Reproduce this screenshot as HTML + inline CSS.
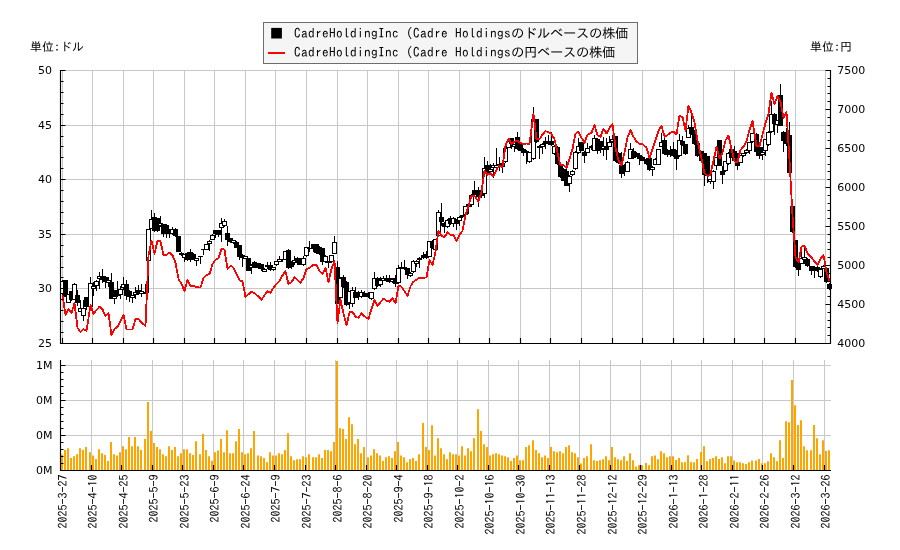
<!DOCTYPE html><html><head><meta charset="utf-8"><title>CadreHoldingInc</title>
<style>html,body{margin:0;padding:0;background:#fff}svg{display:block;will-change:transform}.n{font-family:"DejaVu Sans","Liberation Sans",sans-serif;font-size:11px;fill:#000}.j{font-family:"IPAGothic","Liberation Mono","Noto Sans CJK JP",monospace;fill:#000}</style></head><body>
<svg width="900" height="550" viewBox="0 0 900 550">
<rect width="900" height="550" fill="#fff"/>
<path d="M62.5 70V343M92.5 70V343M91.5 360V470M123.5 70V343M121.5 360V470M153.5 70V343M152.5 360V470M184.5 70V343M182.5 360V470M214.5 70V343M213.5 360V470M245.5 70V343M243.5 360V470M275.5 70V343M274.5 360V470M306.5 70V343M305.5 360V470M337.5 70V343M335.5 360V470M367.5 70V343M366.5 360V470M398.5 70V343M396.5 360V470M428.5 70V343M427.5 360V470M459.5 70V343M457.5 360V470M489.5 70V343M488.5 360V470M520.5 70V343M518.5 360V470M550.5 70V343M549.5 360V470M581.5 70V343M579.5 360V470M612.5 70V343M610.5 360V470M642.5 70V343M640.5 360V470M673.5 70V343M671.5 360V470M703.5 70V343M701.5 360V470M734.5 70V343M732.5 360V470M764.5 70V343M762.5 360V470M795.5 70V343M793.5 360V470M825.5 70V343M824.5 360V470M61 70.5H830M61 125.5H830M61 179.5H830M61 234.5H830M61 288.5H830M61 365.5H831M61 400.5H831M61 435.5H831" stroke="#c8c8c8" stroke-width="1" fill="none" shape-rendering="crispEdges"/>
<path d="M61 470V454.5h2V470ZM64 470V450.1h2V470ZM67 470V448.3h2V470ZM70 470V458.1h2V470ZM73 470V456.3h2V470ZM76 470V454.2h2V470ZM79 470V448.3h2V470ZM82 470V450.1h2V470ZM85 470V447.1h2V470ZM89 470V452.2h2V470ZM92 470V455.4h2V470ZM95 470V459.0h2V470ZM98 470V449.2h2V470ZM101 470V453.3h2V470ZM104 470V455.1h2V470ZM107 470V461.1h2V470ZM110 470V442.1h2V470ZM113 470V454.2h2V470ZM116 470V455.4h2V470ZM119 470V452.2h2V470ZM122 470V446.2h2V470ZM125 470V449.2h2V470ZM128 470V437.1h2V470ZM131 470V446.2h2V470ZM134 470V437.1h2V470ZM137 470V446.2h2V470ZM140 470V450.1h2V470ZM144 470V439.1h2V470ZM147 470V402.1h2V470ZM150 470V431.1h2V470ZM153 470V443.0h2V470ZM156 470V447.1h2V470ZM159 470V449.2h2V470ZM162 470V454.2h2V470ZM165 470V456.3h2V470ZM168 470V446.2h2V470ZM171 470V450.1h2V470ZM174 470V447.1h2V470ZM177 470V456.3h2V470ZM180 470V453.3h2V470ZM183 470V449.2h2V470ZM186 470V449.2h2V470ZM189 470V453.3h2V470ZM192 470V455.1h2V470ZM195 470V441.2h2V470ZM199 470V454.2h2V470ZM202 470V434.1h2V470ZM205 470V450.1h2V470ZM208 470V456.3h2V470ZM211 470V460.8h2V470ZM214 470V452.2h2V470ZM217 470V450.4h2V470ZM220 470V439.1h2V470ZM223 470V452.2h2V470ZM226 470V430.2h2V470ZM229 470V453.3h2V470ZM232 470V453.3h2V470ZM235 470V441.2h2V470ZM238 470V429.1h2V470ZM241 470V452.2h2V470ZM244 470V454.2h2V470ZM247 470V453.3h2V470ZM250 470V448.3h2V470ZM253 470V431.1h2V470ZM257 470V455.4h2V470ZM260 470V456.3h2V470ZM263 470V458.1h2V470ZM266 470V462.2h2V470ZM269 470V452.2h2V470ZM272 470V455.4h2V470ZM275 470V455.4h2V470ZM278 470V453.3h2V470ZM281 470V454.2h2V470ZM284 470V450.1h2V470ZM287 470V433.2h2V470ZM290 470V456.3h2V470ZM293 470V460.2h2V470ZM296 470V459.3h2V470ZM299 470V459.3h2V470ZM302 470V456.3h2V470ZM305 470V457.2h2V470ZM308 470V454.2h2V470ZM312 470V457.2h2V470ZM315 470V457.2h2V470ZM318 470V454.2h2V470ZM321 470V458.1h2V470ZM324 470V450.1h2V470ZM327 470V450.1h2V470ZM330 470V451.2h2V470ZM333 470V442.1h2V470ZM336 470V361.0h2V470ZM339 470V428.2h2V470ZM342 470V429.1h2V470ZM345 470V439.1h2V470ZM348 470V417.2h2V470ZM351 470V424.3h2V470ZM354 470V444.2h2V470ZM357 470V439.1h2V470ZM360 470V453.3h2V470ZM363 470V447.1h2V470ZM367 470V457.2h2V470ZM370 470V455.4h2V470ZM373 470V449.2h2V470ZM376 470V453.3h2V470ZM379 470V455.4h2V470ZM382 470V461.1h2V470ZM385 470V457.2h2V470ZM388 470V456.3h2V470ZM391 470V458.1h2V470ZM394 470V451.2h2V470ZM397 470V442.1h2V470ZM400 470V455.4h2V470ZM403 470V457.2h2V470ZM406 470V462.2h2V470ZM409 470V459.3h2V470ZM412 470V458.1h2V470ZM415 470V461.1h2V470ZM418 470V454.2h2V470ZM422 470V423.1h2V470ZM425 470V447.1h2V470ZM428 470V450.1h2V470ZM431 470V425.2h2V470ZM434 470V455.4h2V470ZM437 470V438.2h2V470ZM440 470V448.3h2V470ZM443 470V454.2h2V470ZM446 470V459.3h2V470ZM449 470V452.2h2V470ZM452 470V454.2h2V470ZM455 470V454.2h2V470ZM458 470V455.4h2V470ZM461 470V446.2h2V470ZM464 470V455.4h2V470ZM467 470V448.3h2V470ZM470 470V451.2h2V470ZM473 470V438.2h2V470ZM477 470V409.2h2V470ZM480 470V431.1h2V470ZM483 470V444.2h2V470ZM486 470V447.1h2V470ZM489 470V455.4h2V470ZM492 470V454.2h2V470ZM495 470V453.3h2V470ZM498 470V454.2h2V470ZM501 470V455.4h2V470ZM504 470V456.3h2V470ZM507 470V457.2h2V470ZM510 470V461.1h2V470ZM513 470V458.1h2V470ZM516 470V455.4h2V470ZM519 470V460.2h2V470ZM522 470V460.2h2V470ZM525 470V447.1h2V470ZM528 470V445.3h2V470ZM532 470V440.3h2V470ZM535 470V450.1h2V470ZM538 470V453.3h2V470ZM541 470V457.2h2V470ZM544 470V455.4h2V470ZM547 470V458.1h2V470ZM550 470V447.1h2V470ZM553 470V451.2h2V470ZM556 470V452.2h2V470ZM559 470V451.2h2V470ZM562 470V453.3h2V470ZM565 470V447.1h2V470ZM568 470V445.3h2V470ZM571 470V452.2h2V470ZM574 470V453.3h2V470ZM577 470V457.2h2V470ZM580 470V463.4h2V470ZM583 470V458.1h2V470ZM586 470V456.3h2V470ZM590 470V444.2h2V470ZM593 470V460.2h2V470ZM596 470V461.1h2V470ZM599 470V460.2h2V470ZM602 470V459.3h2V470ZM605 470V456.3h2V470ZM608 470V460.2h2V470ZM611 470V447.1h2V470ZM614 470V457.2h2V470ZM617 470V459.3h2V470ZM620 470V460.2h2V470ZM623 470V456.3h2V470ZM626 470V461.1h2V470ZM629 470V453.3h2V470ZM632 470V460.2h2V470ZM635 470V466.4h2V470ZM638 470V465.2h2V470ZM641 470V465.2h2V470ZM645 470V463.1h2V470ZM648 470V465.2h2V470ZM651 470V456.3h2V470ZM654 470V455.4h2V470ZM657 470V459.3h2V470ZM660 470V451.2h2V470ZM663 470V453.3h2V470ZM666 470V457.2h2V470ZM669 470V456.2h2V470ZM672 470V456.2h2V470ZM675 470V460.0h2V470ZM678 470V458.1h2V470ZM681 470V462.3h2V470ZM684 470V462.3h2V470ZM687 470V455.3h2V470ZM690 470V462.3h2V470ZM693 470V462.3h2V470ZM696 470V459.0h2V470ZM700 470V452.1h2V470ZM703 470V446.2h2V470ZM706 470V461.3h2V470ZM709 470V459.0h2V470ZM712 470V458.1h2V470ZM715 470V456.2h2V470ZM718 470V459.0h2V470ZM721 470V457.2h2V470ZM724 470V463.2h2V470ZM727 470V456.2h2V470ZM730 470V456.2h2V470ZM733 470V460.4h2V470ZM736 470V462.3h2V470ZM739 470V462.3h2V470ZM742 470V463.2h2V470ZM745 470V464.1h2V470ZM748 470V462.3h2V470ZM751 470V460.4h2V470ZM755 470V460.4h2V470ZM758 470V459.0h2V470ZM761 470V463.2h2V470ZM764 470V463.2h2V470ZM767 470V461.3h2V470ZM770 470V453.2h2V470ZM773 470V457.2h2V470ZM776 470V461.3h2V470ZM779 470V440.2h2V470ZM782 470V458.1h2V470ZM785 470V421.3h2V470ZM788 470V422.2h2V470ZM791 470V380.1h2V470ZM794 470V405.2h2V470ZM797 470V425.0h2V470ZM800 470V420.3h2V470ZM803 470V446.2h2V470ZM806 470V450.2h2V470ZM810 470V450.2h2V470ZM813 470V425.0h2V470ZM816 470V438.3h2V470ZM819 470V454.3h2V470ZM822 470V440.2h2V470ZM825 470V451.1h2V470ZM828 470V450.2h2V470Z" fill="#ffa500"/>
<g stroke-width="1" shape-rendering="crispEdges"><path d="M62.5 280V295" stroke="#000"/><rect x="60.5" y="281.5" width="4" height="12.0" fill="#fff" stroke="#000"/><path d="M65.5 280V297" stroke="#000"/><rect x="63.5" y="280.5" width="4" height="16.0" fill="#000" stroke="#000"/><path d="M68.5 294V303" stroke="#000"/><rect x="66.5" y="294.5" width="4" height="8.0" fill="#fff" stroke="#000"/><path d="M71.5 291V301" stroke="#000"/><rect x="69.5" y="291.5" width="4" height="8.0" fill="#000" stroke="#000"/><path d="M74.5 283V300" stroke="#000"/><rect x="72.5" y="284.5" width="4" height="15.0" fill="#fff" stroke="#000"/><path d="M77.5 290V306" stroke="#000"/><rect x="75.5" y="295.5" width="4" height="7.0" fill="#000" stroke="#000"/><path d="M80.5 300V312" stroke="#000"/><rect x="78.5" y="308.5" width="4" height="3.0" fill="#fff" stroke="#000"/><path d="M83.5 300V321" stroke="#000"/><rect x="81.5" y="308.5" width="4" height="7.0" fill="#fff" stroke="#000"/><path d="M86.5 297V310" stroke="#000"/><rect x="84.5" y="297.5" width="4" height="9.0" fill="#000" stroke="#000"/><path d="M90.5 277V307" stroke="#000"/><rect x="88.5" y="283.5" width="4" height="23.0" fill="#fff" stroke="#000"/><path d="M93.5 282V296" stroke="#000"/><rect x="91.5" y="286.5" width="4" height="2.0" fill="#fff" stroke="#000"/><path d="M96.5 280V291" stroke="#000"/><rect x="94.5" y="281.5" width="4" height="4.0" fill="#fff" stroke="#000"/><path d="M99.5 272V289" stroke="#000"/><rect x="97.5" y="276.5" width="4" height="2.0" fill="#fff" stroke="#000"/><path d="M102.5 269V283" stroke="#000"/><rect x="100.5" y="276.5" width="4" height="3.0" fill="#000" stroke="#000"/><path d="M105.5 276V288" stroke="#000"/><rect x="103.5" y="277.5" width="4" height="4.0" fill="#000" stroke="#000"/><path d="M108.5 277V287" stroke="#000"/><rect x="106.5" y="280.5" width="4" height="2.0" fill="#fff" stroke="#000"/><path d="M111.5 273V299" stroke="#000"/><rect x="109.5" y="282.5" width="4" height="16.0" fill="#000" stroke="#000"/><path d="M114.5 290V304" stroke="#000"/><rect x="112.5" y="296.5" width="4" height="2.0" fill="#fff" stroke="#000"/><path d="M117.5 281V297" stroke="#000"/><rect x="115.5" y="290.5" width="4" height="5.0" fill="#000" stroke="#000"/><path d="M120.5 286V299" stroke="#000"/><rect x="118.5" y="289.5" width="4" height="5.0" fill="#fff" stroke="#000"/><path d="M123.5 277V290" stroke="#000"/><rect x="121.5" y="284.5" width="4" height="3.0" fill="#fff" stroke="#000"/><path d="M126.5 280V300" stroke="#000"/><rect x="124.5" y="284.5" width="4" height="11.0" fill="#000" stroke="#000"/><path d="M129.5 290V302" stroke="#000"/><rect x="127.5" y="291.5" width="4" height="5.0" fill="#000" stroke="#000"/><path d="M132.5 295V303" stroke="#000"/><rect x="130.5" y="295.5" width="4" height="2.0" fill="#fff" stroke="#000"/><path d="M135.5 287V299" stroke="#000"/><rect x="133.5" y="292.5" width="4" height="2.0" fill="#fff" stroke="#000"/><path d="M138.5 285V295" stroke="#000"/><rect x="136.5" y="290.5" width="4" height="3.0" fill="#000" stroke="#000"/><path d="M141.5 284V297" stroke="#000"/><rect x="139.5" y="291.5" width="4" height="2.0" fill="#fff" stroke="#000"/><path d="M145.5 284V294" stroke="#000"/><rect x="143.5" y="292.5" width="4" height="1.0" fill="#000" stroke="#000"/><path d="M148.5 229V293" stroke="#000"/><rect x="146.5" y="229.5" width="4" height="31.0" fill="#fff" stroke="#000"/><path d="M151.5 210V229" stroke="#000"/><rect x="149.5" y="219.5" width="4" height="9.0" fill="#fff" stroke="#000"/><path d="M154.5 213V232" stroke="#000"/><rect x="152.5" y="217.5" width="4" height="13.0" fill="#000" stroke="#000"/><path d="M157.5 218V232" stroke="#000"/><rect x="155.5" y="218.5" width="4" height="12.0" fill="#000" stroke="#000"/><path d="M160.5 216V227" stroke="#000"/><rect x="158.5" y="223.5" width="4" height="2.0" fill="#fff" stroke="#000"/><path d="M163.5 224V237" stroke="#000"/><rect x="161.5" y="224.5" width="4" height="9.0" fill="#000" stroke="#000"/><path d="M166.5 224V238" stroke="#000"/><rect x="164.5" y="225.5" width="4" height="8.0" fill="#000" stroke="#000"/><path d="M169.5 229V238" stroke="#000"/><path d="M167.0 231.5H172.0" stroke="#000"/><path d="M172.5 227V235" stroke="#000"/><rect x="170.5" y="229.5" width="4" height="4.0" fill="#fff" stroke="#000"/><path d="M175.5 228V237" stroke="#000"/><rect x="173.5" y="229.5" width="4" height="6.0" fill="#000" stroke="#000"/><path d="M178.5 236V252" stroke="#000"/><rect x="176.5" y="236.5" width="4" height="15.0" fill="#000" stroke="#000"/><path d="M181.5 252V256" stroke="#000"/><rect x="179.5" y="253.5" width="4" height="1.0" fill="#000" stroke="#000"/><path d="M184.5 254V262" stroke="#000"/><rect x="182.5" y="254.5" width="4" height="3.0" fill="#fff" stroke="#000"/><path d="M187.5 252V261" stroke="#000"/><rect x="185.5" y="253.5" width="4" height="6.0" fill="#000" stroke="#000"/><path d="M190.5 249V262" stroke="#000"/><rect x="188.5" y="252.5" width="4" height="7.0" fill="#000" stroke="#000"/><path d="M193.5 253V260" stroke="#000"/><rect x="191.5" y="254.5" width="4" height="4.0" fill="#000" stroke="#000"/><path d="M196.5 258V266" stroke="#000"/><rect x="194.5" y="258.5" width="4" height="2.0" fill="#fff" stroke="#000"/><path d="M200.5 256V264" stroke="#000"/><path d="M198.0 256.5H203.0" stroke="#000"/><path d="M203.5 249V255" stroke="#000"/><path d="M201.0 249.5H206.0" stroke="#000"/><path d="M206.5 244V250" stroke="#000"/><rect x="204.5" y="244.5" width="4" height="5.0" fill="#fff" stroke="#000"/><path d="M209.5 240V251" stroke="#000"/><rect x="207.5" y="241.5" width="4" height="2.0" fill="#fff" stroke="#000"/><path d="M212.5 234V240" stroke="#000"/><rect x="210.5" y="235.5" width="4" height="4.0" fill="#fff" stroke="#000"/><path d="M215.5 230V238" stroke="#000"/><rect x="213.5" y="230.5" width="4" height="3.0" fill="#000" stroke="#000"/><path d="M218.5 230V237" stroke="#000"/><rect x="216.5" y="230.5" width="4" height="4.0" fill="#000" stroke="#000"/><path d="M221.5 218V242" stroke="#000"/><rect x="219.5" y="223.5" width="4" height="4.0" fill="#fff" stroke="#000"/><path d="M224.5 219V227" stroke="#000"/><rect x="222.5" y="221.5" width="4" height="4.0" fill="#fff" stroke="#000"/><path d="M227.5 226V246" stroke="#000"/><rect x="225.5" y="233.5" width="4" height="6.0" fill="#000" stroke="#000"/><path d="M230.5 238V243" stroke="#000"/><rect x="228.5" y="238.5" width="4" height="3.0" fill="#000" stroke="#000"/><path d="M233.5 240V244" stroke="#000"/><rect x="231.5" y="240.5" width="4" height="2.0" fill="#fff" stroke="#000"/><path d="M236.5 241V248" stroke="#000"/><rect x="234.5" y="242.5" width="4" height="5.0" fill="#000" stroke="#000"/><path d="M239.5 245V260" stroke="#000"/><rect x="237.5" y="245.5" width="4" height="11.0" fill="#000" stroke="#000"/><path d="M242.5 254V267" stroke="#000"/><rect x="240.5" y="255.5" width="4" height="2.0" fill="#000" stroke="#000"/><path d="M245.5 256V259" stroke="#000"/><rect x="243.5" y="256.5" width="4" height="2.0" fill="#fff" stroke="#000"/><path d="M248.5 258V271" stroke="#000"/><rect x="246.5" y="258.5" width="4" height="12.0" fill="#000" stroke="#000"/><path d="M251.5 264V274" stroke="#000"/><rect x="249.5" y="265.5" width="4" height="2.0" fill="#fff" stroke="#000"/><path d="M254.5 261V268" stroke="#000"/><rect x="252.5" y="262.5" width="4" height="5.0" fill="#000" stroke="#000"/><path d="M258.5 263V269" stroke="#000"/><rect x="256.5" y="263.5" width="4" height="4.0" fill="#000" stroke="#000"/><path d="M261.5 264V271" stroke="#000"/><rect x="259.5" y="264.5" width="4" height="4.0" fill="#000" stroke="#000"/><path d="M264.5 268V272" stroke="#000"/><rect x="262.5" y="269.5" width="4" height="2.0" fill="#fff" stroke="#000"/><path d="M267.5 262V269" stroke="#000"/><rect x="265.5" y="265.5" width="4" height="1.0" fill="#000" stroke="#000"/><path d="M270.5 262V271" stroke="#000"/><rect x="268.5" y="265.5" width="4" height="4.0" fill="#000" stroke="#000"/><path d="M273.5 267V271" stroke="#000"/><rect x="271.5" y="267.5" width="4" height="2.0" fill="#fff" stroke="#000"/><path d="M276.5 261V266" stroke="#000"/><rect x="274.5" y="261.5" width="4" height="3.0" fill="#fff" stroke="#000"/><path d="M279.5 256V262" stroke="#000"/><rect x="277.5" y="259.5" width="4" height="2.0" fill="#fff" stroke="#000"/><path d="M282.5 259V262" stroke="#000"/><path d="M280.0 259.5H285.0" stroke="#000"/><path d="M285.5 251V260" stroke="#000"/><rect x="283.5" y="251.5" width="4" height="8.0" fill="#fff" stroke="#000"/><path d="M288.5 249V269" stroke="#000"/><rect x="286.5" y="250.5" width="4" height="17.0" fill="#000" stroke="#000"/><path d="M291.5 261V269" stroke="#000"/><rect x="289.5" y="261.5" width="4" height="5.0" fill="#000" stroke="#000"/><path d="M294.5 256V265" stroke="#000"/><rect x="292.5" y="260.5" width="4" height="2.0" fill="#fff" stroke="#000"/><path d="M297.5 257V265" stroke="#000"/><rect x="295.5" y="258.5" width="4" height="4.0" fill="#000" stroke="#000"/><path d="M300.5 258V265" stroke="#000"/><rect x="298.5" y="258.5" width="4" height="6.0" fill="#000" stroke="#000"/><path d="M303.5 256V266" stroke="#000"/><rect x="301.5" y="258.5" width="4" height="6.0" fill="#fff" stroke="#000"/><path d="M306.5 247V257" stroke="#000"/><rect x="304.5" y="247.5" width="4" height="8.0" fill="#fff" stroke="#000"/><path d="M309.5 241V252" stroke="#000"/><path d="M307.0 248.5H312.0" stroke="#000"/><path d="M313.5 244V252" stroke="#000"/><rect x="311.5" y="244.5" width="4" height="4.0" fill="#000" stroke="#000"/><path d="M316.5 244V254" stroke="#000"/><rect x="314.5" y="244.5" width="4" height="8.0" fill="#000" stroke="#000"/><path d="M319.5 246V255" stroke="#000"/><rect x="317.5" y="247.5" width="4" height="6.0" fill="#000" stroke="#000"/><path d="M322.5 248V265" stroke="#000"/><rect x="320.5" y="248.5" width="4" height="13.0" fill="#000" stroke="#000"/><path d="M325.5 255V263" stroke="#000"/><rect x="323.5" y="256.5" width="4" height="5.0" fill="#fff" stroke="#000"/><path d="M328.5 261V268" stroke="#000"/><rect x="326.5" y="261.5" width="4" height="1.0" fill="#000" stroke="#000"/><path d="M331.5 255V263" stroke="#000"/><rect x="329.5" y="255.5" width="4" height="6.0" fill="#fff" stroke="#000"/><path d="M334.5 236V254" stroke="#000"/><rect x="332.5" y="242.5" width="4" height="11.0" fill="#fff" stroke="#000"/><path d="M337.5 261V304" stroke="#000"/><rect x="335.5" y="267.5" width="4" height="36.0" fill="#000" stroke="#000"/><path d="M340.5 277V298" stroke="#000"/><rect x="338.5" y="278.5" width="4" height="19.0" fill="#fff" stroke="#000"/><path d="M343.5 275V288" stroke="#000"/><rect x="341.5" y="277.5" width="4" height="9.0" fill="#000" stroke="#000"/><path d="M346.5 281V306" stroke="#000"/><rect x="344.5" y="282.5" width="4" height="22.0" fill="#000" stroke="#000"/><path d="M349.5 291V309" stroke="#000"/><rect x="347.5" y="291.5" width="4" height="11.0" fill="#fff" stroke="#000"/><path d="M352.5 287V307" stroke="#000"/><rect x="350.5" y="290.5" width="4" height="13.0" fill="#fff" stroke="#000"/><path d="M355.5 287V298" stroke="#000"/><rect x="353.5" y="292.5" width="4" height="5.0" fill="#000" stroke="#000"/><path d="M358.5 291V300" stroke="#000"/><rect x="356.5" y="292.5" width="4" height="4.0" fill="#000" stroke="#000"/><path d="M361.5 290V298" stroke="#000"/><rect x="359.5" y="292.5" width="4" height="4.0" fill="#fff" stroke="#000"/><path d="M364.5 291V297" stroke="#000"/><rect x="362.5" y="293.5" width="4" height="3.0" fill="#000" stroke="#000"/><path d="M368.5 292V298" stroke="#000"/><rect x="366.5" y="293.5" width="4" height="3.0" fill="#000" stroke="#000"/><path d="M371.5 292V300" stroke="#000"/><rect x="369.5" y="292.5" width="4" height="6.0" fill="#fff" stroke="#000"/><path d="M374.5 272V290" stroke="#000"/><rect x="372.5" y="278.5" width="4" height="10.0" fill="#fff" stroke="#000"/><path d="M377.5 277V287" stroke="#000"/><rect x="375.5" y="278.5" width="4" height="7.0" fill="#000" stroke="#000"/><path d="M380.5 277V287" stroke="#000"/><rect x="378.5" y="280.5" width="4" height="4.0" fill="#fff" stroke="#000"/><path d="M383.5 276V281" stroke="#000"/><rect x="381.5" y="278.5" width="4" height="2.0" fill="#fff" stroke="#000"/><path d="M386.5 275V282" stroke="#000"/><rect x="384.5" y="278.5" width="4" height="2.0" fill="#000" stroke="#000"/><path d="M389.5 275V283" stroke="#000"/><rect x="387.5" y="278.5" width="4" height="3.0" fill="#000" stroke="#000"/><path d="M392.5 278V283" stroke="#000"/><rect x="390.5" y="279.5" width="4" height="2.0" fill="#fff" stroke="#000"/><path d="M395.5 275V287" stroke="#000"/><rect x="393.5" y="278.5" width="4" height="5.0" fill="#000" stroke="#000"/><path d="M398.5 265V284" stroke="#000"/><rect x="396.5" y="268.5" width="4" height="14.0" fill="#fff" stroke="#000"/><path d="M401.5 262V269" stroke="#000"/><rect x="399.5" y="267.5" width="4" height="1.0" fill="#000" stroke="#000"/><path d="M404.5 260V270" stroke="#000"/><rect x="402.5" y="267.5" width="4" height="1.0" fill="#000" stroke="#000"/><path d="M407.5 268V279" stroke="#000"/><rect x="405.5" y="268.5" width="4" height="6.0" fill="#000" stroke="#000"/><path d="M410.5 272V277" stroke="#000"/><rect x="408.5" y="273.5" width="4" height="2.0" fill="#fff" stroke="#000"/><path d="M413.5 260V273" stroke="#000"/><rect x="411.5" y="261.5" width="4" height="10.0" fill="#fff" stroke="#000"/><path d="M416.5 260V267" stroke="#000"/><rect x="414.5" y="261.5" width="4" height="2.0" fill="#fff" stroke="#000"/><path d="M419.5 257V268" stroke="#000"/><rect x="417.5" y="258.5" width="4" height="1.0" fill="#000" stroke="#000"/><path d="M423.5 252V259" stroke="#000"/><rect x="421.5" y="255.5" width="4" height="2.0" fill="#000" stroke="#000"/><path d="M426.5 251V259" stroke="#000"/><rect x="424.5" y="254.5" width="4" height="3.0" fill="#000" stroke="#000"/><path d="M429.5 241V257" stroke="#000"/><rect x="427.5" y="241.5" width="4" height="15.0" fill="#fff" stroke="#000"/><path d="M432.5 240V249" stroke="#000"/><rect x="430.5" y="241.5" width="4" height="6.0" fill="#000" stroke="#000"/><path d="M435.5 239V250" stroke="#000"/><rect x="433.5" y="239.5" width="4" height="10.0" fill="#fff" stroke="#000"/><path d="M438.5 210V237" stroke="#000"/><rect x="436.5" y="212.5" width="4" height="23.0" fill="#fff" stroke="#000"/><path d="M441.5 203V226" stroke="#000"/><rect x="439.5" y="217.5" width="4" height="4.0" fill="#000" stroke="#000"/><path d="M444.5 222V233" stroke="#000"/><rect x="442.5" y="223.5" width="4" height="3.0" fill="#000" stroke="#000"/><path d="M447.5 219V228" stroke="#000"/><rect x="445.5" y="220.5" width="4" height="6.0" fill="#fff" stroke="#000"/><path d="M450.5 216V225" stroke="#000"/><rect x="448.5" y="218.5" width="4" height="5.0" fill="#000" stroke="#000"/><path d="M453.5 217V227" stroke="#000"/><rect x="451.5" y="218.5" width="4" height="5.0" fill="#fff" stroke="#000"/><path d="M456.5 219V230" stroke="#000"/><rect x="454.5" y="219.5" width="4" height="4.0" fill="#000" stroke="#000"/><path d="M459.5 216V226" stroke="#000"/><rect x="457.5" y="217.5" width="4" height="3.0" fill="#fff" stroke="#000"/><path d="M462.5 215V218" stroke="#000"/><rect x="460.5" y="215.5" width="4" height="1.0" fill="#000" stroke="#000"/><path d="M465.5 206V216" stroke="#000"/><rect x="463.5" y="206.5" width="4" height="8.0" fill="#fff" stroke="#000"/><path d="M468.5 204V214" stroke="#000"/><rect x="466.5" y="204.5" width="4" height="2.0" fill="#000" stroke="#000"/><path d="M471.5 194V207" stroke="#000"/><rect x="469.5" y="195.5" width="4" height="9.0" fill="#fff" stroke="#000"/><path d="M474.5 181V196" stroke="#000"/><rect x="472.5" y="190.5" width="4" height="4.0" fill="#000" stroke="#000"/><path d="M478.5 187V207" stroke="#000"/><rect x="476.5" y="190.5" width="4" height="6.0" fill="#000" stroke="#000"/><path d="M481.5 191V198" stroke="#000"/><rect x="479.5" y="193.5" width="4" height="2.0" fill="#000" stroke="#000"/><path d="M484.5 157V198" stroke="#000"/><rect x="482.5" y="168.5" width="4" height="25.0" fill="#fff" stroke="#000"/><path d="M487.5 161V174" stroke="#000"/><rect x="485.5" y="165.5" width="4" height="7.0" fill="#000" stroke="#000"/><path d="M490.5 164V173" stroke="#000"/><rect x="488.5" y="169.5" width="4" height="2.0" fill="#fff" stroke="#000"/><path d="M493.5 163V178" stroke="#000"/><rect x="491.5" y="165.5" width="4" height="2.0" fill="#fff" stroke="#000"/><path d="M496.5 148V169" stroke="#000"/><rect x="494.5" y="165.5" width="4" height="2.0" fill="#fff" stroke="#000"/><path d="M499.5 157V171" stroke="#000"/><rect x="497.5" y="164.5" width="4" height="1.0" fill="#000" stroke="#000"/><path d="M502.5 161V173" stroke="#000"/><rect x="500.5" y="163.5" width="4" height="3.0" fill="#000" stroke="#000"/><path d="M505.5 147V163" stroke="#000"/><rect x="503.5" y="148.5" width="4" height="13.0" fill="#fff" stroke="#000"/><path d="M508.5 141V148" stroke="#000"/><rect x="506.5" y="141.5" width="4" height="6.0" fill="#fff" stroke="#000"/><path d="M511.5 138V149" stroke="#000"/><rect x="509.5" y="138.5" width="4" height="5.0" fill="#000" stroke="#000"/><path d="M514.5 144V152" stroke="#000"/><rect x="512.5" y="144.5" width="4" height="2.0" fill="#fff" stroke="#000"/><path d="M517.5 132V150" stroke="#000"/><rect x="515.5" y="137.5" width="4" height="11.0" fill="#000" stroke="#000"/><path d="M520.5 143V151" stroke="#000"/><rect x="518.5" y="144.5" width="4" height="6.0" fill="#000" stroke="#000"/><path d="M523.5 148V156" stroke="#000"/><rect x="521.5" y="149.5" width="4" height="3.0" fill="#000" stroke="#000"/><path d="M526.5 150V164" stroke="#000"/><path d="M524.0 151.5H529.0" stroke="#000"/><path d="M529.5 152V163" stroke="#000"/><rect x="527.5" y="152.5" width="4" height="9.0" fill="#fff" stroke="#000"/><path d="M533.5 107V160" stroke="#000"/><rect x="531.5" y="119.5" width="4" height="39.0" fill="#fff" stroke="#000"/><path d="M536.5 119V143" stroke="#000"/><rect x="534.5" y="119.5" width="4" height="22.0" fill="#000" stroke="#000"/><path d="M539.5 145V159" stroke="#000"/><rect x="537.5" y="146.5" width="4" height="1.0" fill="#000" stroke="#000"/><path d="M542.5 143V154" stroke="#000"/><rect x="540.5" y="144.5" width="4" height="2.0" fill="#fff" stroke="#000"/><path d="M545.5 137V149" stroke="#000"/><rect x="543.5" y="141.5" width="4" height="2.0" fill="#000" stroke="#000"/><path d="M548.5 135V145" stroke="#000"/><rect x="546.5" y="141.5" width="4" height="2.0" fill="#000" stroke="#000"/><path d="M551.5 132V146" stroke="#000"/><rect x="549.5" y="141.5" width="4" height="3.0" fill="#000" stroke="#000"/><path d="M554.5 145V155" stroke="#000"/><rect x="552.5" y="146.5" width="4" height="7.0" fill="#fff" stroke="#000"/><path d="M557.5 146V165" stroke="#000"/><rect x="555.5" y="147.5" width="4" height="16.0" fill="#000" stroke="#000"/><path d="M560.5 163V178" stroke="#000"/><rect x="558.5" y="164.5" width="4" height="12.0" fill="#000" stroke="#000"/><path d="M563.5 168V181" stroke="#000"/><rect x="561.5" y="169.5" width="4" height="11.0" fill="#000" stroke="#000"/><path d="M566.5 161V186" stroke="#000"/><rect x="564.5" y="171.5" width="4" height="14.0" fill="#000" stroke="#000"/><path d="M569.5 175V192" stroke="#000"/><rect x="567.5" y="176.5" width="4" height="7.0" fill="#fff" stroke="#000"/><path d="M572.5 170V176" stroke="#000"/><rect x="570.5" y="171.5" width="4" height="3.0" fill="#fff" stroke="#000"/><path d="M575.5 151V170" stroke="#000"/><rect x="573.5" y="152.5" width="4" height="16.0" fill="#fff" stroke="#000"/><path d="M578.5 138V154" stroke="#000"/><rect x="576.5" y="146.5" width="4" height="6.0" fill="#fff" stroke="#000"/><path d="M581.5 142V151" stroke="#000"/><rect x="579.5" y="142.5" width="4" height="8.0" fill="#000" stroke="#000"/><path d="M584.5 151V163" stroke="#000"/><rect x="582.5" y="152.5" width="4" height="3.0" fill="#000" stroke="#000"/><path d="M587.5 143V153" stroke="#000"/><rect x="585.5" y="148.5" width="4" height="4.0" fill="#fff" stroke="#000"/><path d="M591.5 145V150" stroke="#000"/><rect x="589.5" y="146.5" width="4" height="1.0" fill="#000" stroke="#000"/><path d="M594.5 135V151" stroke="#000"/><rect x="592.5" y="138.5" width="4" height="12.0" fill="#fff" stroke="#000"/><path d="M597.5 138V154" stroke="#000"/><rect x="595.5" y="139.5" width="4" height="11.0" fill="#000" stroke="#000"/><path d="M600.5 141V153" stroke="#000"/><rect x="598.5" y="141.5" width="4" height="8.0" fill="#000" stroke="#000"/><path d="M603.5 137V156" stroke="#000"/><rect x="601.5" y="146.5" width="4" height="2.0" fill="#fff" stroke="#000"/><path d="M606.5 138V160" stroke="#000"/><rect x="604.5" y="146.5" width="4" height="3.0" fill="#000" stroke="#000"/><path d="M609.5 136V147" stroke="#000"/><rect x="607.5" y="142.5" width="4" height="4.0" fill="#fff" stroke="#000"/><path d="M612.5 135V143" stroke="#000"/><rect x="610.5" y="139.5" width="4" height="2.0" fill="#fff" stroke="#000"/><path d="M615.5 136V162" stroke="#000"/><rect x="613.5" y="136.5" width="4" height="24.0" fill="#000" stroke="#000"/><path d="M618.5 152V164" stroke="#000"/><rect x="616.5" y="153.5" width="4" height="9.0" fill="#000" stroke="#000"/><path d="M621.5 152V178" stroke="#000"/><rect x="619.5" y="165.5" width="4" height="8.0" fill="#000" stroke="#000"/><path d="M624.5 164V176" stroke="#000"/><rect x="622.5" y="165.5" width="4" height="6.0" fill="#000" stroke="#000"/><path d="M627.5 161V172" stroke="#000"/><rect x="625.5" y="162.5" width="4" height="9.0" fill="#fff" stroke="#000"/><path d="M630.5 143V159" stroke="#000"/><rect x="628.5" y="149.5" width="4" height="9.0" fill="#fff" stroke="#000"/><path d="M633.5 148V159" stroke="#000"/><rect x="631.5" y="151.5" width="4" height="6.0" fill="#000" stroke="#000"/><path d="M636.5 152V157" stroke="#000"/><rect x="634.5" y="153.5" width="4" height="2.0" fill="#000" stroke="#000"/><path d="M639.5 153V165" stroke="#000"/><rect x="637.5" y="155.5" width="4" height="3.0" fill="#000" stroke="#000"/><path d="M642.5 156V161" stroke="#000"/><rect x="640.5" y="157.5" width="4" height="3.0" fill="#000" stroke="#000"/><path d="M646.5 158V165" stroke="#000"/><rect x="644.5" y="159.5" width="4" height="4.0" fill="#000" stroke="#000"/><path d="M649.5 157V171" stroke="#000"/><rect x="647.5" y="158.5" width="4" height="11.0" fill="#000" stroke="#000"/><path d="M652.5 166V176" stroke="#000"/><rect x="650.5" y="167.5" width="4" height="2.0" fill="#fff" stroke="#000"/><path d="M655.5 158V165" stroke="#000"/><rect x="653.5" y="159.5" width="4" height="5.0" fill="#fff" stroke="#000"/><path d="M658.5 149V165" stroke="#000"/><rect x="656.5" y="149.5" width="4" height="15.0" fill="#fff" stroke="#000"/><path d="M661.5 133V147" stroke="#000"/><rect x="659.5" y="142.5" width="4" height="4.0" fill="#fff" stroke="#000"/><path d="M664.5 133V155" stroke="#000"/><rect x="662.5" y="140.5" width="4" height="13.0" fill="#000" stroke="#000"/><path d="M667.5 149V157" stroke="#000"/><rect x="665.5" y="150.5" width="4" height="4.0" fill="#000" stroke="#000"/><path d="M670.5 146V157" stroke="#000"/><rect x="668.5" y="150.5" width="4" height="3.0" fill="#000" stroke="#000"/><path d="M673.5 142V157" stroke="#000"/><rect x="671.5" y="149.5" width="4" height="6.0" fill="#000" stroke="#000"/><path d="M676.5 150V170" stroke="#000"/><rect x="674.5" y="151.5" width="4" height="7.0" fill="#000" stroke="#000"/><path d="M679.5 134V157" stroke="#000"/><rect x="677.5" y="140.5" width="4" height="15.0" fill="#fff" stroke="#000"/><path d="M682.5 136V146" stroke="#000"/><rect x="680.5" y="141.5" width="4" height="3.0" fill="#000" stroke="#000"/><path d="M685.5 144V155" stroke="#000"/><rect x="683.5" y="144.5" width="4" height="9.0" fill="#000" stroke="#000"/><path d="M688.5 125V138" stroke="#000"/><rect x="686.5" y="128.5" width="4" height="9.0" fill="#fff" stroke="#000"/><path d="M691.5 112V135" stroke="#000"/><rect x="689.5" y="127.5" width="4" height="6.0" fill="#000" stroke="#000"/><path d="M694.5 130V145" stroke="#000"/><rect x="692.5" y="131.5" width="4" height="12.0" fill="#000" stroke="#000"/><path d="M697.5 143V157" stroke="#000"/><rect x="695.5" y="143.5" width="4" height="12.0" fill="#000" stroke="#000"/><path d="M701.5 151V161" stroke="#000"/><rect x="699.5" y="151.5" width="4" height="9.0" fill="#000" stroke="#000"/><path d="M704.5 153V186" stroke="#000"/><rect x="702.5" y="153.5" width="4" height="21.0" fill="#000" stroke="#000"/><path d="M707.5 156V183" stroke="#000"/><rect x="705.5" y="156.5" width="4" height="19.0" fill="#000" stroke="#000"/><path d="M710.5 179V184" stroke="#000"/><rect x="708.5" y="179.5" width="4" height="2.0" fill="#fff" stroke="#000"/><path d="M713.5 170V189" stroke="#000"/><rect x="711.5" y="171.5" width="4" height="10.0" fill="#fff" stroke="#000"/><path d="M716.5 157V170" stroke="#000"/><rect x="714.5" y="157.5" width="4" height="8.0" fill="#fff" stroke="#000"/><path d="M719.5 140V166" stroke="#000"/><rect x="717.5" y="140.5" width="4" height="25.0" fill="#000" stroke="#000"/><path d="M722.5 166V184" stroke="#000"/><rect x="720.5" y="171.5" width="4" height="3.0" fill="#000" stroke="#000"/><path d="M725.5 161V172" stroke="#000"/><rect x="723.5" y="161.5" width="4" height="9.0" fill="#fff" stroke="#000"/><path d="M728.5 152V165" stroke="#000"/><rect x="726.5" y="153.5" width="4" height="10.0" fill="#fff" stroke="#000"/><path d="M731.5 148V158" stroke="#000"/><rect x="729.5" y="149.5" width="4" height="8.0" fill="#000" stroke="#000"/><path d="M734.5 146V161" stroke="#000"/><rect x="732.5" y="151.5" width="4" height="9.0" fill="#000" stroke="#000"/><path d="M737.5 153V170" stroke="#000"/><rect x="735.5" y="153.5" width="4" height="12.0" fill="#000" stroke="#000"/><path d="M740.5 155V163" stroke="#000"/><rect x="738.5" y="155.5" width="4" height="7.0" fill="#fff" stroke="#000"/><path d="M743.5 153V157" stroke="#000"/><rect x="741.5" y="153.5" width="4" height="2.0" fill="#fff" stroke="#000"/><path d="M746.5 149V154" stroke="#000"/><rect x="744.5" y="150.5" width="4" height="2.0" fill="#fff" stroke="#000"/><path d="M749.5 142V154" stroke="#000"/><rect x="747.5" y="142.5" width="4" height="8.0" fill="#fff" stroke="#000"/><path d="M752.5 133V143" stroke="#000"/><rect x="750.5" y="133.5" width="4" height="8.0" fill="#fff" stroke="#000"/><path d="M756.5 133V156" stroke="#000"/><rect x="754.5" y="134.5" width="4" height="17.0" fill="#000" stroke="#000"/><path d="M759.5 147V159" stroke="#000"/><rect x="757.5" y="147.5" width="4" height="8.0" fill="#000" stroke="#000"/><path d="M762.5 147V160" stroke="#000"/><rect x="760.5" y="152.5" width="4" height="2.0" fill="#fff" stroke="#000"/><path d="M765.5 139V156" stroke="#000"/><rect x="763.5" y="139.5" width="4" height="11.0" fill="#fff" stroke="#000"/><path d="M768.5 131V146" stroke="#000"/><rect x="766.5" y="132.5" width="4" height="12.0" fill="#fff" stroke="#000"/><path d="M771.5 101V133" stroke="#000"/><rect x="769.5" y="114.5" width="4" height="17.0" fill="#fff" stroke="#000"/><path d="M774.5 113V135" stroke="#000"/><rect x="772.5" y="114.5" width="4" height="9.0" fill="#000" stroke="#000"/><path d="M777.5 120V133" stroke="#000"/><rect x="775.5" y="120.5" width="4" height="4.0" fill="#fff" stroke="#000"/><path d="M780.5 84V126" stroke="#000"/><rect x="778.5" y="95.5" width="4" height="30.0" fill="#000" stroke="#000"/><path d="M783.5 131V152" stroke="#000"/><rect x="781.5" y="132.5" width="4" height="8.0" fill="#000" stroke="#000"/><path d="M786.5 128V146" stroke="#000"/><rect x="784.5" y="132.5" width="4" height="11.0" fill="#000" stroke="#000"/><path d="M789.5 122V174" stroke="#000"/><rect x="787.5" y="135.5" width="4" height="37.0" fill="#000" stroke="#000"/><path d="M792.5 201V233" stroke="#000"/><rect x="790.5" y="206.5" width="4" height="25.0" fill="#000" stroke="#000"/><path d="M795.5 240V268" stroke="#000"/><rect x="793.5" y="240.5" width="4" height="26.0" fill="#000" stroke="#000"/><path d="M798.5 260V276" stroke="#000"/><rect x="796.5" y="260.5" width="4" height="9.0" fill="#000" stroke="#000"/><path d="M801.5 250V264" stroke="#000"/><rect x="799.5" y="258.5" width="4" height="5.0" fill="#fff" stroke="#000"/><path d="M804.5 248V264" stroke="#000"/><rect x="802.5" y="257.5" width="4" height="2.0" fill="#fff" stroke="#000"/><path d="M807.5 258V267" stroke="#000"/><rect x="805.5" y="259.5" width="4" height="6.0" fill="#000" stroke="#000"/><path d="M811.5 266V275" stroke="#000"/><rect x="809.5" y="266.5" width="4" height="4.0" fill="#000" stroke="#000"/><path d="M814.5 266V278" stroke="#000"/><rect x="812.5" y="267.5" width="4" height="3.0" fill="#000" stroke="#000"/><path d="M817.5 266V272" stroke="#000"/><rect x="815.5" y="267.5" width="4" height="3.0" fill="#000" stroke="#000"/><path d="M820.5 268V278" stroke="#000"/><rect x="818.5" y="269.5" width="4" height="7.0" fill="#fff" stroke="#000"/><path d="M823.5 265V269" stroke="#000"/><rect x="821.5" y="266.5" width="4" height="2.0" fill="#fff" stroke="#000"/><path d="M826.5 267V283" stroke="#000"/><rect x="824.5" y="268.5" width="4" height="13.0" fill="#000" stroke="#000"/><path d="M829.5 283V290" stroke="#000"/><rect x="827.5" y="284.5" width="4" height="4.0" fill="#000" stroke="#000"/></g>
<polyline points="62.5,295.0 65.5,315.0 68.5,309.4 71.5,312.8 74.5,303.3 77.5,327.8 80.5,332.2 83.5,328.9 86.5,331.1 90.5,305.0 93.5,313.9 96.5,310.0 99.5,306.7 102.5,309.4 105.5,316.1 108.5,313.3 111.5,335.0 114.5,328.9 117.5,326.7 120.5,321.1 123.5,315.0 126.5,329.4 129.5,329.4 132.5,329.4 135.5,318.9 138.5,318.9 141.5,322.8 145.5,325.8 148.5,255.3 151.5,240.9 154.5,253.7 157.5,240.9 160.5,241.4 163.5,254.8 166.5,254.8 169.5,252.6 172.5,255.3 175.5,262.6 178.5,278.7 181.5,284.2 184.5,290.9 187.5,279.8 190.5,285.9 193.5,285.9 196.5,287.0 200.5,287.6 203.5,278.1 206.5,274.8 209.5,274.2 212.5,264.2 215.5,259.8 218.5,258.1 221.5,248.7 224.5,249.8 227.5,268.7 230.5,265.9 233.5,267.6 236.5,274.2 239.5,280.3 242.5,281.3 245.5,296.9 248.5,294.3 251.5,291.8 254.5,293.2 258.5,296.6 261.5,299.9 264.5,295.4 267.5,291.0 270.5,292.7 273.5,287.7 276.5,283.8 279.5,281.0 282.5,275.4 285.5,271.3 288.5,284.0 291.5,282.1 294.5,277.1 297.5,279.9 300.5,283.2 303.5,277.7 306.5,269.3 309.5,267.7 313.5,264.9 316.5,265.1 319.5,271.0 322.5,273.6 325.5,267.7 328.5,282.1 331.5,268.8 334.5,261.1 337.5,323.2 340.5,299.3 343.5,313.7 346.5,325.3 349.5,312.3 352.5,311.6 355.5,317.1 358.5,317.8 361.5,313.4 364.5,316.4 368.5,318.8 371.5,308.9 374.5,300.0 377.5,306.2 380.5,302.1 383.5,298.7 386.5,300.7 389.5,301.8 392.5,298.0 395.5,303.4 398.5,285.7 401.5,286.7 404.5,291.2 407.5,295.9 410.5,286.4 413.5,281.6 416.5,279.6 419.5,277.9 423.5,277.8 426.5,277.3 429.5,260.1 432.5,265.0 435.5,252.0 438.5,230.6 441.5,235.5 444.5,237.2 447.5,232.3 450.5,234.8 453.5,235.3 456.5,240.9 459.5,234.8 462.5,230.8 465.5,215.6 468.5,205.8 471.5,195.5 474.5,195.9 478.5,201.6 481.5,191.8 484.5,170.9 487.5,174.6 490.5,173.3 493.5,176.5 496.5,169.6 499.5,165.5 502.5,167.1 505.5,145.8 508.5,138.5 511.5,143.9 514.5,141.7 517.5,140.9 520.5,142.9 523.5,144.2 526.5,143.5 529.5,143.9 533.5,113.9 536.5,139.3 539.5,139.3 542.5,134.4 545.5,131.1 548.5,132.2 551.5,133.9 554.5,139.3 557.5,152.4 560.5,165.5 563.5,165.1 566.5,167.9 569.5,158.9 572.5,149.1 575.5,133.6 578.5,131.9 581.5,137.6 584.5,142.9 587.5,134.7 591.5,132.6 594.5,125.3 597.5,135.1 600.5,136.7 603.5,128.6 606.5,133.5 609.5,127.7 612.5,124.1 615.5,147.4 618.5,160.5 621.5,165.4 624.5,152.3 627.5,137.6 630.5,130.2 633.5,136.7 636.5,141.6 639.5,143.6 642.5,144.1 646.5,147.7 649.5,158.0 652.5,149.0 655.5,140.0 658.5,131.3 661.5,125.6 664.5,136.7 667.5,135.1 670.5,132.6 673.5,131.8 676.5,134.3 679.5,115.5 682.5,117.1 685.5,130.8 688.5,105.6 691.5,112.7 694.5,122.2 697.5,140.3 701.5,158.5 704.5,173.2 707.5,176.2 710.5,174.7 713.5,160.4 716.5,147.0 719.5,158.5 722.5,152.7 725.5,140.3 728.5,135.6 731.5,148.9 734.5,161.3 737.5,162.3 740.5,149.9 743.5,146.5 746.5,141.3 749.5,129.8 752.5,120.7 756.5,146.1 759.5,146.1 762.5,134.6 765.5,123.2 768.5,113.6 771.5,92.5 774.5,104.0 777.5,96.0 780.5,102.0 783.5,117.8 786.5,112.0 789.5,160.0 792.5,215.0 795.5,257.0 798.5,262.4 801.5,247.0 804.5,245.5 807.5,253.5 811.5,257.5 814.5,261.5 817.5,265.0 820.5,259.0 823.5,255.0 826.5,272.0 829.5,281.0" fill="none" stroke="#f00" stroke-width="1.8" stroke-linejoin="round" shape-rendering="crispEdges"/>
<path d="M60.5 70V344M60 343.5H831M830.5 70V344M60.5 360V471M60 470.5H831M60 343.5h5.5M60 332.5h3.5M60 321.5h3.5M60 310.5h3.5M60 299.5h3.5M60 288.5h5.5M60 277.5h3.5M60 267.5h3.5M60 256.5h3.5M60 245.5h3.5M60 234.5h5.5M60 223.5h3.5M60 212.5h3.5M60 201.5h3.5M60 190.5h3.5M60 179.5h5.5M60 168.5h3.5M60 157.5h3.5M60 146.5h3.5M60 136.5h3.5M60 125.5h5.5M60 114.5h3.5M60 103.5h3.5M60 92.5h3.5M60 81.5h3.5M60 70.5h5.5M831 343.5h-5.5M831 335.5h-3.5M831 327.5h-3.5M831 320.5h-3.5M831 312.5h-3.5M831 304.5h-5.5M831 296.5h-3.5M831 288.5h-3.5M831 281.5h-3.5M831 273.5h-3.5M831 265.5h-5.5M831 257.5h-3.5M831 249.5h-3.5M831 242.5h-3.5M831 234.5h-3.5M831 226.5h-5.5M831 218.5h-3.5M831 210.5h-3.5M831 203.5h-3.5M831 195.5h-3.5M831 187.5h-5.5M831 179.5h-3.5M831 171.5h-3.5M831 164.5h-3.5M831 156.5h-3.5M831 148.5h-5.5M831 140.5h-3.5M831 132.5h-3.5M831 125.5h-3.5M831 117.5h-3.5M831 109.5h-5.5M831 101.5h-3.5M831 93.5h-3.5M831 86.5h-3.5M831 78.5h-3.5M831 70.5h-5.5M60 470.5h5.5M60 463.5h3.5M60 456.5h3.5M60 449.5h3.5M60 442.5h3.5M60 435.5h5.5M60 428.5h3.5M60 421.5h3.5M60 414.5h3.5M60 407.5h3.5M60 400.5h5.5M60 393.5h3.5M60 386.5h3.5M60 379.5h3.5M60 372.5h3.5M60 365.5h5.5M62.5 344v-6M92.5 344v-6M91.5 471v-6M123.5 344v-6M121.5 471v-6M153.5 344v-6M152.5 471v-6M184.5 344v-6M182.5 471v-6M214.5 344v-6M213.5 471v-6M245.5 344v-6M243.5 471v-6M275.5 344v-6M274.5 471v-6M306.5 344v-6M305.5 471v-6M337.5 344v-6M335.5 471v-6M367.5 344v-6M366.5 471v-6M398.5 344v-6M396.5 471v-6M428.5 344v-6M427.5 471v-6M459.5 344v-6M457.5 471v-6M489.5 344v-6M488.5 471v-6M520.5 344v-6M518.5 471v-6M550.5 344v-6M549.5 471v-6M581.5 344v-6M579.5 471v-6M612.5 344v-6M610.5 471v-6M642.5 344v-6M640.5 471v-6M673.5 344v-6M671.5 471v-6M703.5 344v-6M701.5 471v-6M734.5 344v-6M732.5 471v-6M764.5 344v-6M762.5 471v-6M795.5 344v-6M793.5 471v-6M824.5 471v-6" stroke="#000" stroke-width="1.15" fill="none"/>
<text class="n" x="51.9" y="74" text-anchor="end">50</text>
<text class="n" x="51.9" y="129" text-anchor="end">45</text>
<text class="n" x="51.9" y="183" text-anchor="end">40</text>
<text class="n" x="51.9" y="238" text-anchor="end">35</text>
<text class="n" x="51.9" y="292" text-anchor="end">30</text>
<text class="n" x="51.9" y="347" text-anchor="end">25</text>
<text class="n" x="837.3" y="347">4000</text>
<text class="n" x="837.3" y="308">4500</text>
<text class="n" x="837.3" y="269">5000</text>
<text class="n" x="837.3" y="230">5500</text>
<text class="n" x="837.3" y="191">6000</text>
<text class="n" x="837.3" y="152">6500</text>
<text class="n" x="837.3" y="113">7000</text>
<text class="n" x="837.3" y="74">7500</text>
<text class="n" x="52.4" y="369" text-anchor="end">1M</text>
<text class="n" x="52.4" y="404" text-anchor="end">0M</text>
<text class="n" x="52.4" y="439" text-anchor="end">0M</text>
<text class="n" x="52.4" y="474" text-anchor="end">0M</text>
<text class="j" font-size="12" text-anchor="end" transform="translate(66.7 474.5) rotate(-90)">2025-3-27</text>
<text class="j" font-size="12" text-anchor="end" transform="translate(96.7 474.5) rotate(-90)">2025-4-10</text>
<text class="j" font-size="12" text-anchor="end" transform="translate(127.7 474.5) rotate(-90)">2025-4-25</text>
<text class="j" font-size="12" text-anchor="end" transform="translate(157.7 474.5) rotate(-90)">2025-5-9</text>
<text class="j" font-size="12" text-anchor="end" transform="translate(188.7 474.5) rotate(-90)">2025-5-23</text>
<text class="j" font-size="12" text-anchor="end" transform="translate(218.7 474.5) rotate(-90)">2025-6-9</text>
<text class="j" font-size="12" text-anchor="end" transform="translate(249.7 474.5) rotate(-90)">2025-6-24</text>
<text class="j" font-size="12" text-anchor="end" transform="translate(279.7 474.5) rotate(-90)">2025-7-9</text>
<text class="j" font-size="12" text-anchor="end" transform="translate(310.7 474.5) rotate(-90)">2025-7-23</text>
<text class="j" font-size="12" text-anchor="end" transform="translate(341.7 474.5) rotate(-90)">2025-8-6</text>
<text class="j" font-size="12" text-anchor="end" transform="translate(371.7 474.5) rotate(-90)">2025-8-20</text>
<text class="j" font-size="12" text-anchor="end" transform="translate(402.7 474.5) rotate(-90)">2025-9-4</text>
<text class="j" font-size="12" text-anchor="end" transform="translate(432.7 474.5) rotate(-90)">2025-9-18</text>
<text class="j" font-size="12" text-anchor="end" transform="translate(463.7 474.5) rotate(-90)">2025-10-2</text>
<text class="j" font-size="12" text-anchor="end" transform="translate(493.7 474.5) rotate(-90)">2025-10-16</text>
<text class="j" font-size="12" text-anchor="end" transform="translate(524.7 474.5) rotate(-90)">2025-10-30</text>
<text class="j" font-size="12" text-anchor="end" transform="translate(554.7 474.5) rotate(-90)">2025-11-13</text>
<text class="j" font-size="12" text-anchor="end" transform="translate(585.7 474.5) rotate(-90)">2025-11-28</text>
<text class="j" font-size="12" text-anchor="end" transform="translate(616.7 474.5) rotate(-90)">2025-12-12</text>
<text class="j" font-size="12" text-anchor="end" transform="translate(646.7 474.5) rotate(-90)">2025-12-29</text>
<text class="j" font-size="12" text-anchor="end" transform="translate(677.7 474.5) rotate(-90)">2026-1-13</text>
<text class="j" font-size="12" text-anchor="end" transform="translate(707.7 474.5) rotate(-90)">2026-1-28</text>
<text class="j" font-size="12" text-anchor="end" transform="translate(738.7 474.5) rotate(-90)">2026-2-11</text>
<text class="j" font-size="12" text-anchor="end" transform="translate(768.7 474.5) rotate(-90)">2026-2-26</text>
<text class="j" font-size="12" text-anchor="end" transform="translate(799.7 474.5) rotate(-90)">2026-3-12</text>
<text class="j" font-size="12" text-anchor="end" transform="translate(829.7 474.5) rotate(-90)">2026-3-26</text>
<text class="j" font-size="12" x="30" y="51">単位:ドル</text>
<text class="j" font-size="12" x="810" y="51">単位:円</text>
<rect x="263.5" y="22.5" width="374" height="41" fill="#f5f5f5" stroke="#6e6e6e" stroke-width="1"/>
<rect x="271.2" y="27.9" width="10.7" height="10.6" fill="#000"/>
<path d="M268 53H285" stroke="#f00" stroke-width="2"/>
<text class="j" font-size="13.33" x="294" y="38"><tspan letter-spacing="0.335">CadreHoldingInc (Cadre Holdings</tspan><tspan letter-spacing="-0.33">のドルベースの株価</tspan></text>
<text class="j" font-size="13.33" x="294" y="57"><tspan letter-spacing="0.335">CadreHoldingInc (Cadre Holdings</tspan><tspan letter-spacing="-0.33">の円ベースの株価</tspan></text>
</svg></body></html>
